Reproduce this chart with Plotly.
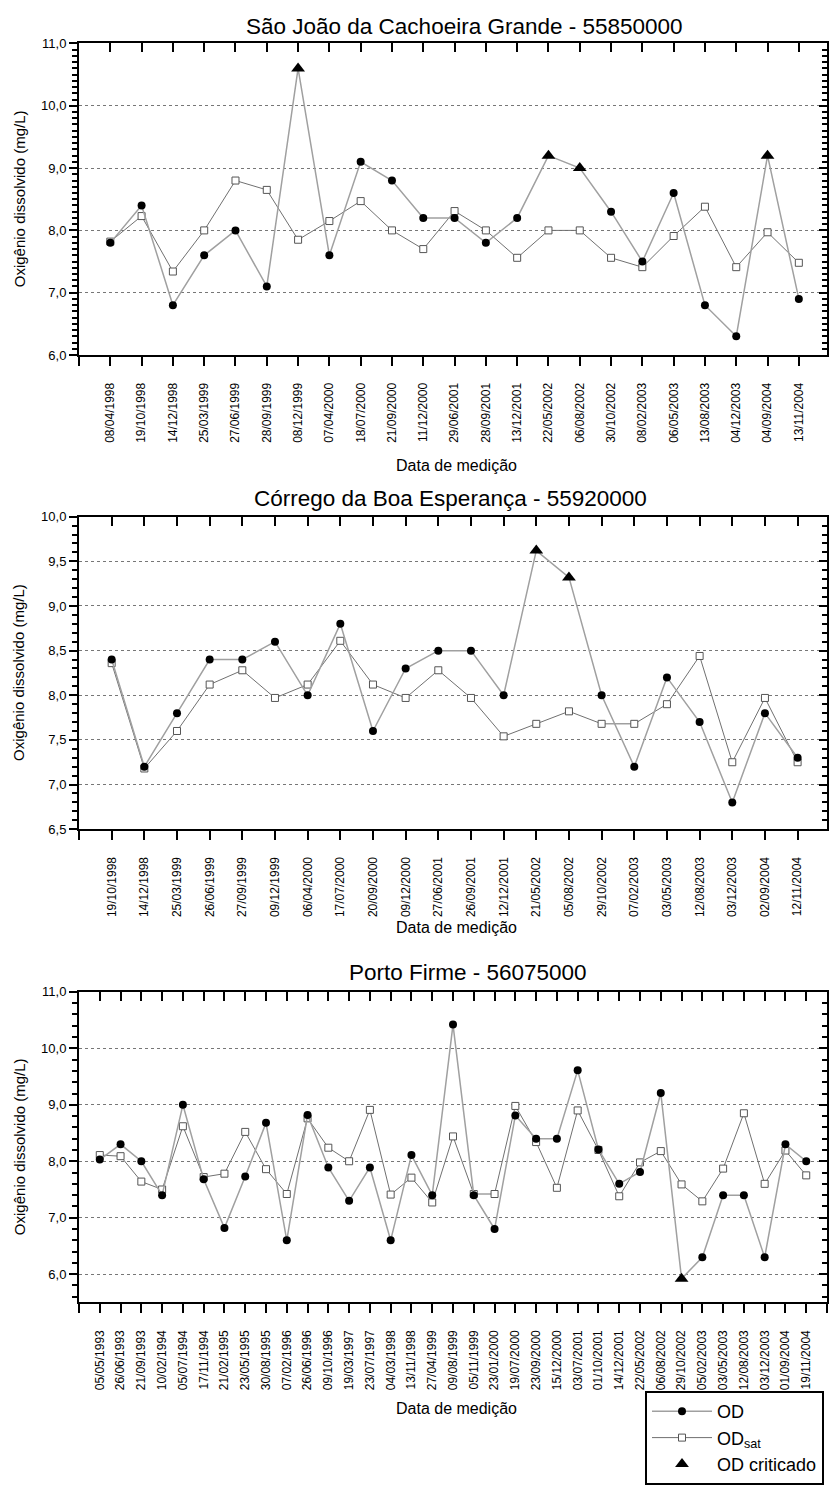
import plotly.graph_objects as go

W, H = 829, 1485
FONT = "Liberation Sans, Arial, sans-serif"

# ---------------- data ----------------
p1_title = "São João da Cachoeira Grande - 55850000"
p1_dates = ["08/04/1998", "19/10/1998", "14/12/1998", "25/03/1999", "27/06/1999", "28/09/1999",
            "08/12/1999", "07/04/2000", "18/07/2000", "21/09/2000", "11/12/2000", "29/06/2001",
            "28/09/2001", "13/12/2001", "22/05/2002", "06/08/2002", "30/10/2002", "08/02/2003",
            "06/05/2003", "13/08/2003", "04/12/2003", "04/09/2004", "13/11/2004"]
p1_od = [7.8, 8.4, 6.8, 7.6, 8.0, 7.1, 10.6, 7.6, 9.1, 8.8, 8.2, 8.2, 7.8, 8.2, 9.2, 9.0,
         8.3, 7.5, 8.6, 6.8, 6.3, 9.2, 6.9]
p1_odsat = [7.82, 8.23, 7.34, 8.0, 8.8, 8.65, 7.85, 8.15, 8.47, 8.0, 7.7, 8.31, 8.0, 7.56,
            8.0, 8.0, 7.56, 7.41, 7.91, 8.38, 7.41, 7.97, 7.48]
p1_crit = [7, 15, 16, 22]          # category numbers with "OD criticado"
p1_yticks = [6.0, 7.0, 8.0, 9.0, 10.0, 11.0]

p2_title = "Córrego da Boa Esperança - 55920000"
p2_dates = ["19/10/1998", "14/12/1998", "25/03/1999", "26/06/1999", "27/09/1999", "09/12/1999",
            "06/04/2000", "17/07/2000", "20/09/2000", "09/12/2000", "27/06/2001", "26/09/2001",
            "12/12/2001", "21/05/2002", "05/08/2002", "29/10/2002", "07/02/2003", "03/05/2003",
            "12/08/2003", "03/12/2003", "02/09/2004", "12/11/2004"]
p2_od = [8.4, 7.2, 7.8, 8.4, 8.4, 8.6, 8.0, 8.8, 7.6, 8.3, 8.5, 8.5, 8.0, 9.62, 9.32, 8.0,
         7.2, 8.2, 7.7, 6.8, 7.8, 7.3]
p2_odsat = [8.36, 7.18, 7.6, 8.12, 8.28, 7.97, 8.12, 8.61, 8.12, 7.97, 8.28, 7.97, 7.54, 7.68,
            7.82, 7.68, 7.68, 7.9, 8.44, 7.25, 7.97, 7.25]
p2_crit = [14, 15]
p2_yticks = [6.5, 7.0, 7.5, 8.0, 8.5, 9.0, 9.5, 10.0]

p3_title = "Porto Firme - 56075000"
p3_dates = ["05/05/1993", "26/06/1993", "21/09/1993", "10/02/1994", "05/07/1994", "17/11/1994",
            "21/02/1995", "23/05/1995", "30/08/1995", "07/02/1996", "26/06/1996", "09/10/1996",
            "19/03/1997", "23/07/1997", "04/03/1998", "13/11/1998", "27/04/1999", "09/08/1999",
            "05/11/1999", "23/01/2000", "19/07/2000", "23/09/2000", "15/12/2000", "03/07/2001",
            "01/10/2001", "14/12/2001", "22/05/2002", "06/08/2002", "29/10/2002", "05/02/2003",
            "03/05/2003", "12/08/2003", "03/12/2003", "01/09/2004", "19/11/2004"]
p3_od = [8.03, 8.3, 8.0, 7.4, 9.0, 7.68, 6.82, 7.73, 8.68, 6.6, 8.82, 7.89, 7.3, 7.89, 6.6,
         8.11, 7.4, 10.42, 7.4, 6.8, 8.81, 8.4, 8.4, 9.61, 8.21, 7.6, 7.81, 9.21, 5.92, 6.3,
         7.4, 7.4, 6.3, 8.3, 8.0]
p3_odsat = [8.11, 8.09, 7.64, 7.5, 8.62, 7.72, 7.78, 8.52, 7.86, 7.42, 8.76, 8.24, 8.0, 8.91,
            7.41, 7.71, 7.27, 8.44, 7.42, 7.42, 8.98, 8.34, 7.53, 8.9, 8.2, 7.38, 7.98, 8.18,
            7.59, 7.29, 7.87, 8.85, 7.6, 8.19, 7.75]
p3_crit = [29]
p3_yticks = [6.0, 7.0, 8.0, 9.0, 10.0, 11.0]

y_title = "Oxigênio dissolvido (mg/L)"
x_title = "Data de medição"
legend_names = ["OD", "OD<sub>sat</sub>", "OD criticado"]

# ---------------- layout geometry (pixels) ----------------
panels = [
    dict(title=p1_title, dates=p1_dates, od=p1_od, sat=p1_odsat, crit=p1_crit, yt=p1_yticks,
         yr=[6.0, 11.0], xr=[0, 23.9], top=37, bot=353, minor=0.1,
         tcx=464, tcy=20, xtcy=465),
    dict(title=p2_title, dates=p2_dates, od=p2_od, sat=p2_odsat, crit=p2_crit, yt=p2_yticks,
         yr=[6.5, 10.0], xr=[0, 22.9], top=517, bot=834, minor=0.1,
         tcx=451, tcy=499, xtcy=934),
    dict(title=p3_title, dates=p3_dates, od=p3_od, sat=p3_odsat, crit=p3_crit, yt=p3_yticks,
         yr=[5.5, 11.0], xr=[0, 36], top=999, bot=1314, minor=0.2,
         tcx=468, tcy=979, xtcy=1422),
]
LEFT, RIGHT = 79, 827
TICK_COLOR = "black"


def px(x):
    return x / W


def py(y):
    return 1 - y / H


fig = go.Figure()
layout = dict(
    width=W, height=H,
    margin=dict(l=0, r=0, t=0, b=0),
    paper_bgcolor="white", plot_bgcolor="white",
    separators=",.",
    font=dict(family=FONT, color="black"),
    showlegend=True,
    annotations=[],
    modebar=dict(bgcolor="rgba(0,0,0,0)", color="rgba(0,0,0,0)",
                 activecolor="rgba(0,0,0,0)"),
)

for i, p in enumerate(panels):
    k = i + 1
    kt = i + 4
    xa = "x" if k == 1 else f"x{k}"
    ya = "y" if k == 1 else f"y{k}"
    xs = list(range(1, len(p["dates"]) + 1))
    crit_set = set(p["crit"])
    od_colors = ["rgba(0,0,0,0)" if n in crit_set else "black" for n in xs]
    cx = [n for n in xs if n in crit_set]
    cy = [p["od"][n - 1] for n in xs if n in crit_set]

    fig.add_trace(go.Scatter(
        x=xs, y=p["sat"], xaxis=xa, yaxis=ya, mode="lines+markers",
        name=legend_names[1], showlegend=(k == 1), legendrank=2,
        line=dict(color="#707070", width=1),
        marker=dict(symbol="square", size=7, color="white",
                    line=dict(color="#555555", width=1))))
    fig.add_trace(go.Scatter(
        x=xs, y=p["od"], xaxis=xa, yaxis=ya, mode="lines+markers",
        name=legend_names[0], showlegend=(k == 1), legendrank=1,
        line=dict(color="#a0a0a0", width=1.5),
        marker=dict(symbol="circle", size=8, color=od_colors, line=dict(width=0))))
    fig.add_trace(go.Scatter(
        x=cx, y=cy, xaxis=xa, yaxis=ya, mode="markers",
        name=legend_names[2], showlegend=(k == 1), legendrank=3,
        marker=dict(symbol="triangle-up", size=12, color="black")))
    # invisible copies that make the mirror axes (top x, right y) exist
    fig.add_trace(go.Scatter(x=xs, y=p["od"], xaxis=f"x{kt}", yaxis=ya, mode="markers",
                             marker=dict(opacity=0), showlegend=False, hoverinfo="skip"))
    fig.add_trace(go.Scatter(x=xs, y=p["od"], xaxis=xa, yaxis=f"y{kt}", mode="markers",
                             marker=dict(opacity=0), showlegend=False, hoverinfo="skip"))

    dom_x = [px(LEFT), px(RIGHT)]
    dom_y = [py(p["bot"]), py(p["top"])]
    ystep = p["yt"][1] - p["yt"][0]

    layout[f"xaxis{'' if k == 1 else k}"] = dict(
        domain=dom_x, anchor=ya, range=p["xr"], tickmode="array",
        tickvals=xs, ticktext=p["dates"], tickangle=-90,
        ticks="outside", ticklen=9, tickwidth=1.5, tickcolor="black",
        minor=dict(tick0=0, dtick=1, ticks="outside", ticklen=9, tickwidth=1.5,
                   tickcolor="black", showgrid=False),
        ticklabelstandoff=12,
        tickfont=dict(size=12, family=FONT, color="black"),
        showline=True, linecolor="black", linewidth=2,
        showgrid=False, zeroline=False, fixedrange=True)
    layout[f"xaxis{kt}"] = dict(
        overlaying=xa, anchor=ya, side="top", range=p["xr"],
        tickmode="linear", tick0=0, dtick=1,
        ticks="inside", ticklen=9, tickwidth=2, tickcolor=TICK_COLOR,
        showticklabels=False, showline=True, linecolor="black", linewidth=2,
        showgrid=False, zeroline=False)
    layout[f"yaxis{'' if k == 1 else k}"] = dict(
        domain=dom_y, anchor=xa, range=p["yr"], tickmode="array", tickvals=p["yt"],
        tickformat=".1f", ticks="outside", ticklen=8, tickwidth=1.5, tickcolor="black",
        tickfont=dict(size=13, family=FONT, color="black"),
        minor=dict(dtick=p["minor"], ticks="outside", ticklen=5, tickwidth=1.5,
                   tickcolor="black", showgrid=False),
        showline=True, linecolor="black", linewidth=2,
        showgrid=True, gridcolor="#777777", gridwidth=1, griddash="dot",
        zeroline=False)
    layout[f"yaxis{kt}"] = dict(
        overlaying=ya, anchor=xa, side="right", range=p["yr"],
        tickmode="linear", tick0=p["yt"][0], dtick=ystep,
        ticks="inside", ticklen=8, tickwidth=2, tickcolor=TICK_COLOR,
        minor=dict(tick0=p["yt"][0], dtick=p["minor"], ticks="inside", ticklen=5,
                   tickwidth=2, tickcolor=TICK_COLOR, showgrid=False),
        showticklabels=False, showline=True, linecolor="black", linewidth=1.5,
        showgrid=False, zeroline=False)

    layout["annotations"] += [
        dict(text=p["title"], x=px(p["tcx"]), y=py(p["tcy"]), xref="paper", yref="paper",
             showarrow=False, xanchor="center", yanchor="middle",
             font=dict(size=22.5, family=FONT, color="black")),
        dict(text=x_title, x=px(456), y=py(p["xtcy"]), xref="paper",
             yref="paper", showarrow=False, xanchor="center", yanchor="middle",
             font=dict(size=16, family=FONT, color="black")),
        dict(text=y_title, x=px(19), y=py((p["top"] + p["bot"]) / 2), xref="paper",
             yref="paper", showarrow=False, xanchor="center", yanchor="middle",
             textangle=-90, font=dict(size=15, family=FONT, color="black")),
    ]

layout["legend"] = dict(
    x=px(645), y=py(1404), xanchor="left", yanchor="top",
    bordercolor="black", borderwidth=2, bgcolor="white",
    font=dict(size=18, family=FONT, color="black"),
    tracegroupgap=0, itemwidth=60, traceorder="normal")

fig.update_layout(**layout)
fig.write_html("out.html", post_script="document.body.style.margin='0px';",
               config={"displaylogo": False})
